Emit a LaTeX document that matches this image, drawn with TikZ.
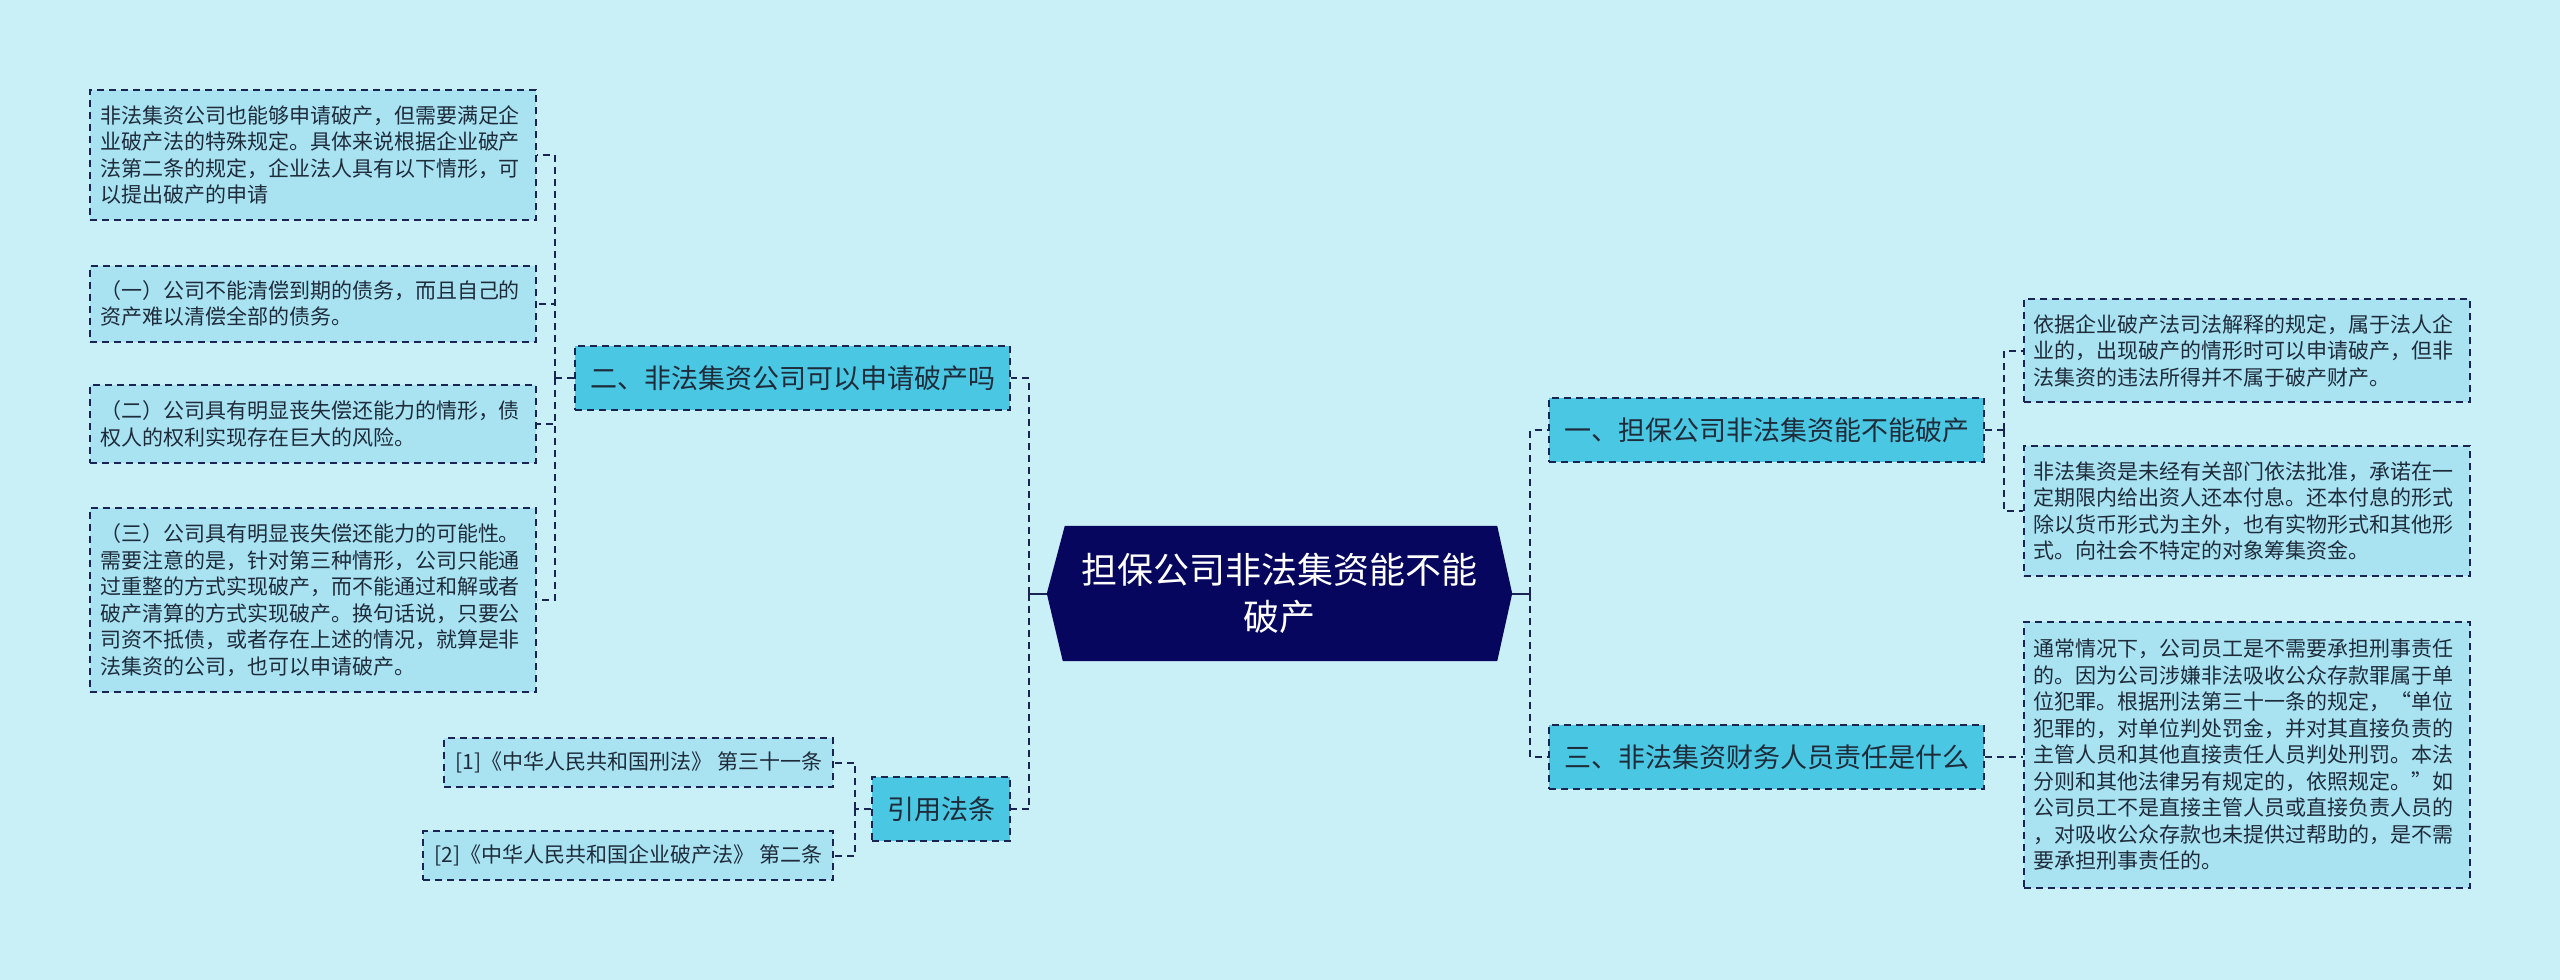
\documentclass[tikz,border=0pt]{standalone}
\usepackage{fontspec}
\setmainfont{Noto Sans CJK SC}
\definecolor{bg}{HTML}{C9EFF7}
\definecolor{leaffill}{HTML}{A9E3F2}
\definecolor{l1fill}{HTML}{4AC7E2}
\definecolor{rootfill}{HTML}{06065E}
\definecolor{edgecol}{HTML}{1A2452}
\definecolor{txt}{HTML}{1E2B3A}
\tikzset{
  dashline/.style={draw=edgecol, line width=2pt, dash pattern=on 7pt off 5pt},
  leaf/.style={dashline, fill=leaffill, text=txt, align=left, text width=426pt,
    inner xsep=10pt, inner ysep=0pt, font=\fontsize{21}{26.5}\selectfont},
  refbox/.style={dashline, fill=leaffill, text=txt, inner xsep=11pt, inner ysep=0pt,
    minimum height=49pt, font=\fontsize{21}{26}\selectfont},
  lone/.style={dashline, fill=l1fill, text=txt, inner xsep=15pt, inner ysep=0pt,
    minimum height=64pt, font=\fontsize{27}{32}\selectfont},
  conn/.style={dashline},
  solidconn/.style={draw=edgecol, line width=2pt}
}
\begin{document}
\begin{tikzpicture}[x=1pt,y=-1pt]
\useasboundingbox (0,0) rectangle (2560,980);
\fill[bg] (0,0) rectangle (2560,980);

% root
\node[minimum width=465pt, minimum height=135pt, inner sep=0pt] (root) at (1279.5,593.5) {};
\fill[rootfill] (root.west) -- ([xshift=18pt]root.north west) -- ([xshift=-15pt]root.north east)
  -- (root.east) -- ([xshift=-15pt]root.south east) -- ([xshift=16pt]root.south west) -- cycle;
\node[text=white, align=center, font=\fontsize{36}{47}\selectfont] (roottext) at (root.center)
  {担保公司非法集资能不能\\破产};

% level 1
\node[lone, anchor=west] (n1) at (1548,430) {一、担保公司非法集资能不能破产};
\node[lone, anchor=west] (n3) at (1548,757) {三、非法集资财务人员责任是什么};
\node[lone, anchor=east] (n2) at (1011,378) {二、非法集资公司可以申请破产吗};
\node[lone, anchor=east] (nref) at (1011,809) {引用法条};

% right leaves
\node[leaf, minimum height=103pt] (r1) at (2246.5,350.5)
  {依据企业破产法司法解释的规定，属于法人企\\业的，出现破产的情形时可以申请破产，但非\\法集资的违法所得并不属于破产财产。};
\node[leaf, minimum height=130pt] (r2) at (2246.5,511)
  {非法集资是未经有关部门依法批准，承诺在一\\定期限内给出资人还本付息。还本付息的形式\\除以货币形式为主外，也有实物形式和其他形\\式。向社会不特定的对象筹集资金。};
\node[leaf, minimum height=266pt] (r3) at (2246.5,755)
  {通常情况下，公司员工是不需要承担刑事责任\\的。因为公司涉嫌非法吸收公众存款罪属于单\\位犯罪。根据刑法第三十一条的规定，“单位\\犯罪的，对单位判处罚金，并对其直接负责的\\主管人员和其他直接责任人员判处刑罚。本法\\分则和其他法律另有规定的，依照规定。”如\\公司员工不是直接主管人员或直接负责人员的\\，对吸收公众存款也未提供过帮助的，是不需\\要承担刑事责任的。};

% left leaves
\node[leaf, minimum height=130pt] (l1) at (313,155)
  {非法集资公司也能够申请破产，但需要满足企\\业破产法的特殊规定。具体来说根据企业破产\\法第二条的规定，企业法人具有以下情形，可\\以提出破产的申请};
\node[leaf, minimum height=76pt] (l2) at (313,303.5)
  {（一）公司不能清偿到期的债务，而且自己的\\资产难以清偿全部的债务。};
\node[leaf, minimum height=78pt] (l3) at (313,424)
  {（二）公司具有明显丧失偿还能力的情形，债\\权人的权利实现存在巨大的风险。};
\node[leaf, minimum height=184pt] (l4) at (313,600)
  {（三）公司具有明显丧失偿还能力的可能性。\\需要注意的是，针对第三种情形，公司只能通\\过重整的方式实现破产，而不能通过和解或者\\破产清算的方式实现破产。换句话说，只要公\\司资不抵债，或者存在上述的情况，就算是非\\法集资的公司，也可以申请破产。};

% references
\node[refbox, anchor=east] (ref1) at (834,762.5) {[1]《中华人民共和国刑法》 第三十一条};
\node[refbox, anchor=east] (ref2) at (834,855.5) {[2]《中华人民共和国企业破产法》 第二条};

% bus coordinates
\coordinate (busR) at (1530,593.5);
\coordinate (busL) at (1029,593.5);
\coordinate (bus1) at (2004,430);
\coordinate (bus2) at (555,378);
\coordinate (busRef) at (855,809);

% connectors
\draw[solidconn] (root.east) -- (busR);
\draw[solidconn] (root.west) -- (busL);
\draw[conn] (busR) |- (n1.west);
\draw[conn] (busR) |- (n3.west);
\draw[conn] (busL) |- (n2.east);
\draw[conn] (busL) |- (nref.east);

\draw[conn] (n1.east) -- (bus1);
\draw[conn] (bus1) |- (r1.west);
\draw[conn] (bus1) |- (r2.west);
\draw[conn] (n3.east) -- (n3.east -| r3.west);

\draw[conn] (n2.west) -- (bus2);
\draw[conn] (bus2) |- (l1.east);
\draw[conn] (bus2) |- (l2.east);
\draw[conn] (bus2) |- (l3.east);
\draw[conn] (bus2) |- (l4.east);

\draw[conn] (nref.west) -- (busRef);
\draw[conn] (busRef) |- (ref1.east);
\draw[conn] (busRef) |- (ref2.east);
\end{tikzpicture}
\end{document}
